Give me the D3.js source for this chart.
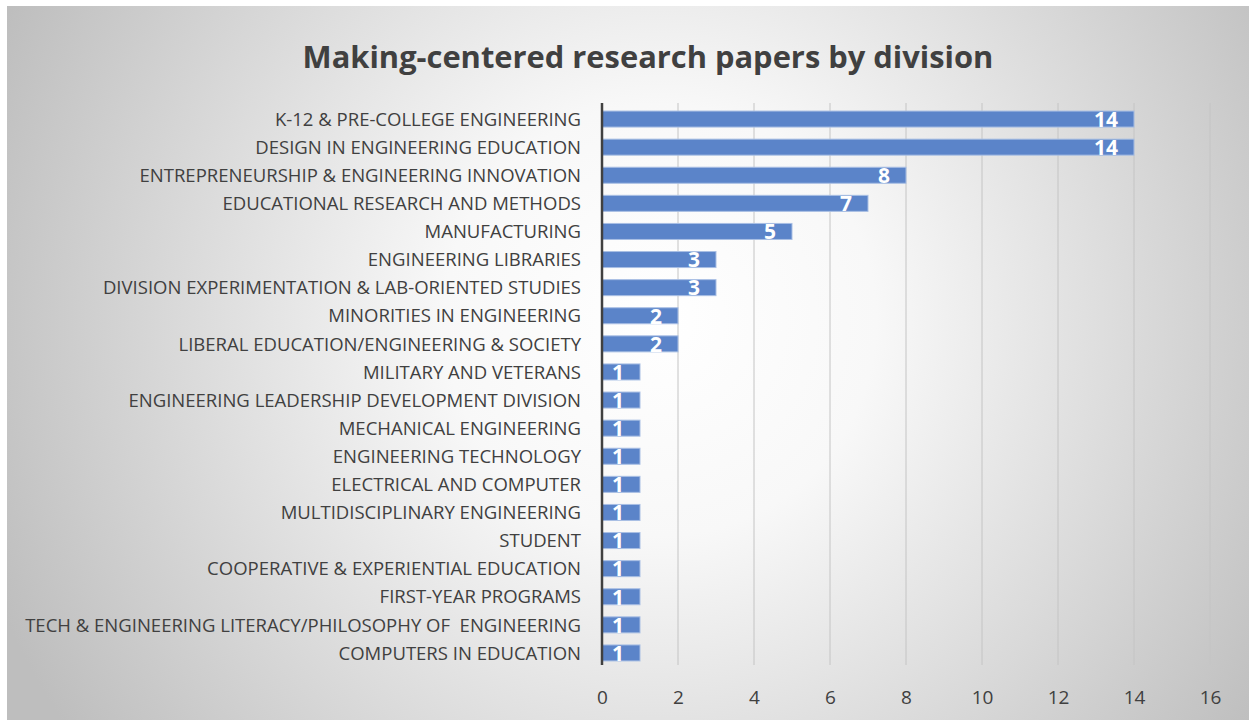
<!DOCTYPE html>
<meta charset="utf-8">
<style>
  body { margin: 0; background: #fff; }
  .cat { font-family: "Open Sans", "Noto Sans", sans-serif; fill: #404040; white-space: pre; }
  .tick text { font-family: "Open Sans", "Noto Sans", sans-serif; fill: #404040; }
</style>
<body>
<script src="https://d3js.org/d3.v7.min.js"></script>
<script>

// divisions, top to bottom
var divisions = [
  "K-12 & PRE-COLLEGE ENGINEERING",
  "DESIGN IN ENGINEERING EDUCATION",
  "ENTREPRENEURSHIP & ENGINEERING INNOVATION",
  "EDUCATIONAL RESEARCH AND METHODS",
  "MANUFACTURING",
  "ENGINEERING LIBRARIES",
  "DIVISION EXPERIMENTATION & LAB-ORIENTED STUDIES",
  "MINORITIES IN ENGINEERING",
  "LIBERAL EDUCATION/ENGINEERING & SOCIETY",
  "MILITARY AND VETERANS",
  "ENGINEERING LEADERSHIP DEVELOPMENT DIVISION",
  "MECHANICAL ENGINEERING",
  "ENGINEERING TECHNOLOGY",
  "ELECTRICAL AND COMPUTER",
  "MULTIDISCIPLINARY ENGINEERING",
  "STUDENT",
  "COOPERATIVE & EXPERIENTIAL EDUCATION",
  "FIRST-YEAR PROGRAMS",
  "TECH & ENGINEERING LITERACY/PHILOSOPHY OF  ENGINEERING",
  "COMPUTERS IN EDUCATION"
];
var papers = [14, 14, 8, 7, 5, 3, 3, 2, 2, 1, 1, 1, 1, 1, 1, 1, 1, 1, 1, 1];
var xTicks = [0, 2, 4, 6, 8, 10, 12, 14, 16];

var width = 1249, height = 725;

var svg = d3.select("body").append("svg")
    .attr("width", width)
    .attr("height", height);

// background gradient like the office chart area
var defs = svg.append("defs");
var grad = defs.append("radialGradient")
    .attr("id", "bg")
    .attr("gradientUnits", "userSpaceOnUse")
    .attr("cx", 660).attr("cy", 320).attr("r", 720);
grad.append("stop").attr("offset", "0%").attr("stop-color", "#ffffff");
grad.append("stop").attr("offset", "30%").attr("stop-color", "#f8f8f8");
grad.append("stop").attr("offset", "100%").attr("stop-color", "#bebebe");

svg.append("rect")
    .attr("x", 7).attr("y", 6)
    .attr("width", width - 7).attr("height", 714)
    .attr("fill", "url(#bg)");

var x = d3.scaleLinear().domain([0, 16]).range([602, 1210]);
var y = d3.scaleBand().domain(divisions).range([105, 667]).paddingInner(0.43).paddingOuter(0.215);

// gridlines
svg.append("g")
  .selectAll("line")
  .data(xTicks.slice(1))
  .join("line")
    .attr("x1", d => x(d)).attr("x2", d => x(d))
    .attr("y1", 103).attr("y2", 665)
    .attr("stroke", "#c4c4c4")
    .attr("stroke-width", 1);

// bars
svg.append("g")
  .selectAll("rect")
  .data(divisions)
  .join("rect")
    .attr("x", x(0))
    .attr("y", d => y(d))
    .attr("width", (d, i) => x(papers[i]) - x(0))
    .attr("height", y.bandwidth())
    .attr("fill", "#5b84c9")
    .attr("stroke", "#a9bfe4")
    .attr("stroke-width", 1);

// value labels
svg.append("g")
  .selectAll("text")
  .data(divisions)
  .join("text")
    .attr("x", (d, i) => x(papers[i]) - 16)
    .attr("y", d => y(d) + y.bandwidth() / 2)
    .attr("dy", "0.37em")
    .attr("text-anchor", "end")
    .attr("font-family", "'Open Sans', sans-serif")
    .attr("font-weight", "bold")
    .attr("font-size", 21)
    .attr("fill", "#fff")
    .text((d, i) => papers[i]);

// category labels
var cats = svg.append("g")
  .selectAll("text")
  .data(divisions)
  .join("text")
    .attr("class", "cat")
    .attr("x", 581)
    .attr("y", d => y(d) + y.bandwidth() / 2)
    .attr("dy", "0.36em")
    .attr("text-anchor", "end")
    .attr("font-size", 17)
    .text(d => d);

// fit the category font to the original's narrow face
var longest = d3.max(cats.nodes(), n => n.getComputedTextLength());
cats.attr("font-size", 17 * 556 / longest);

// zero axis line
svg.append("line")
    .attr("x1", x(0)).attr("x2", x(0))
    .attr("y1", 103).attr("y2", 665)
    .attr("stroke", "#404040")
    .attr("stroke-width", 2.5);

// x axis tick labels
var xAxis = svg.append("g")
    .attr("transform", "translate(0,697)")
    .call(d3.axisBottom(x).tickValues(xTicks).tickSize(0).tickPadding(0));
xAxis.select(".domain").remove();
xAxis.selectAll("text").attr("font-size", 19).attr("dy", "0.36em");

// title
var title = svg.append("text")
    .attr("x", 648)
    .attr("y", 68)
    .attr("text-anchor", "middle")
    .attr("font-family", "'Open Sans', sans-serif")
    .attr("font-weight", "bold")
    .attr("font-size", 31)
    .attr("fill", "#404040")
    .text("Making-centered research papers by division");
var tw = title.node().getComputedTextLength();
title.attr("font-size", 31 * 691 / tw);

</script>
</body>
